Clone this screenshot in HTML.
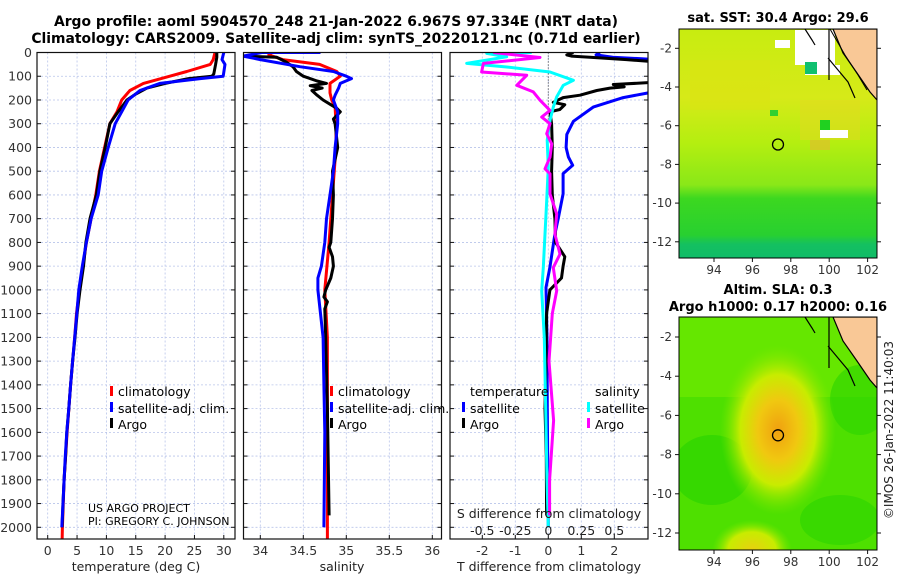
<!DOCTYPE html>
<html><head><meta charset="utf-8">
<style>
html,body{margin:0;padding:0;background:#fff;}
svg{display:block;font-family:"DejaVu Sans","Liberation Sans",sans-serif;}
</style></head>
<body>
<svg id="chart" width="900" height="580" viewBox="0 0 900 580">
<defs>
<linearGradient id="sstGrad" x1="0" y1="0" x2="0" y2="1">
<stop offset="0" stop-color="#c8ec10"/>
<stop offset="0.3" stop-color="#d6ea18"/>
<stop offset="0.5" stop-color="#b4ee10"/>
<stop offset="0.68" stop-color="#8ae818"/>
<stop offset="0.74" stop-color="#3cd820"/>
<stop offset="0.9" stop-color="#28d030"/>
<stop offset="0.94" stop-color="#14c060"/>
<stop offset="1" stop-color="#10bc68"/>
</linearGradient>
<radialGradient id="slaBlob" cx="0.5" cy="0.5" r="0.5">
<stop offset="0" stop-color="#f0a010"/>
<stop offset="0.35" stop-color="#f0c810"/>
<stop offset="0.65" stop-color="#c8ec00"/>
<stop offset="1" stop-color="#7ce800" stop-opacity="0"/>
</radialGradient>
<radialGradient id="slaBlob2" cx="0.5" cy="0.5" r="0.5">
<stop offset="0" stop-color="#e8d010"/>
<stop offset="0.6" stop-color="#c8ec00"/>
<stop offset="1" stop-color="#7ce800" stop-opacity="0"/>
</radialGradient>
<clipPath id="c1"><rect x="37" y="52.5" width="198" height="486.5"/></clipPath>
<clipPath id="c2"><rect x="243.5" y="52.5" width="198" height="486.5"/></clipPath>
<clipPath id="c3"><rect x="450" y="52.5" width="198" height="486.5"/></clipPath>
<clipPath id="cm1"><rect x="679" y="29" width="198" height="229"/></clipPath>
<clipPath id="cm2"><rect x="679" y="317" width="198" height="233"/></clipPath>
</defs>

<text x="336" y="26" text-anchor="middle" font-size="13.9" font-weight="bold">Argo profile: aoml 5904570_248 21-Jan-2022 6.967S 97.334E (NRT data)</text>
<text x="336" y="43" text-anchor="middle" font-size="13.9" font-weight="bold">Climatology: CARS2009. Satellite-adj clim: synTS_20220121.nc (0.71d earlier)</text>

<g id="grids"></g>
<g id="series"></g>
<g id="axes"></g>

<g font-size="12.5">
<rect x="110" y="386" width="3" height="10" fill="#f00"/><text x="118" y="396">climatology</text>
<rect x="110" y="402" width="3" height="10" fill="#00f"/><text x="118" y="413">satellite-adj. clim.</text>
<rect x="110" y="418" width="3" height="10" fill="#000"/><text x="118" y="429">Argo</text>
</g>
<g font-size="12.5">
<rect x="330" y="386" width="3" height="10" fill="#f00"/><text x="338" y="396">climatology</text>
<rect x="330" y="402" width="3" height="10" fill="#00f"/><text x="338" y="413">satellite-adj. clim.</text>
<rect x="330" y="418" width="3" height="10" fill="#000"/><text x="338" y="429">Argo</text>
</g>
<g font-size="12.5">
<text x="470" y="396">temperature</text>
<rect x="462" y="402" width="3" height="10" fill="#00f"/><text x="470" y="413">satellite</text>
<rect x="462" y="418" width="3" height="10" fill="#000"/><text x="470" y="429">Argo</text>
<text x="595" y="396">salinity</text>
<rect x="587" y="402" width="3" height="10" fill="#0ff"/><text x="595" y="413">satellite</text>
<rect x="587" y="418" width="3" height="10" fill="#f0f"/><text x="595" y="429">Argo</text>
</g>
<text x="88" y="512" font-size="11">US ARGO PROJECT</text>
<text x="88" y="525" font-size="11">PI: GREGORY C. JOHNSON</text>

<text x="136" y="571" text-anchor="middle" font-size="12.5" fill="#222">temperature (deg C)</text>
<text x="342" y="571" text-anchor="middle" font-size="12.5" fill="#222">salinity</text>
<text x="549" y="571" text-anchor="middle" font-size="12.5" fill="#222">T difference from climatology</text>
<text x="549" y="518" text-anchor="middle" font-size="12.5" fill="#222">S difference from climatology</text>

<g>
<text x="778" y="22" text-anchor="middle" font-size="13" font-weight="bold">sat. SST: 30.4 Argo: 29.6</text>
<g clip-path="url(#cm1)">
<rect x="679" y="29" width="198" height="229" fill="url(#sstGrad)"/>
<rect x="690" y="60" width="80" height="50" fill="#e0e010" opacity="0.45"/>
<rect x="800" y="100" width="60" height="40" fill="#e6d820" opacity="0.5"/>
<rect x="810" y="140" width="20" height="10" fill="#e8b830" opacity="0.6"/>
<rect x="795" y="30" width="40" height="35" fill="#fff"/>
<rect x="775" y="40" width="15" height="8" fill="#fff"/>
<rect x="805" y="65" width="35" height="10" fill="#fff"/>
<rect x="805" y="62" width="12" height="12" fill="#10c070"/>
<rect x="820" y="120" width="10" height="10" fill="#20d020"/>
<rect x="820" y="130" width="28" height="8" fill="#fff"/>
<rect x="770" y="110" width="8" height="6" fill="#30d030"/>
<polygon points="833,29 877,29 877,100 870,92 857,73 843,53" fill="#f9c896" stroke="#000" stroke-width="1.2"/>
<polyline points="830,29 845,55 858,75 867,90" fill="none" stroke="#000" stroke-width="1"/>
<polyline points="805,29 812,40 815,45" fill="none" stroke="#000" stroke-width="1.2"/>
<polyline points="828,58 838,70 848,82 855,98" fill="none" stroke="#000" stroke-width="1.2"/>
<line x1="829" y1="29" x2="829" y2="80" stroke="#000" stroke-width="1.2"/>
<circle cx="778" cy="144.5" r="5.5" fill="none" stroke="#000" stroke-width="1.3"/>
</g>
<rect x="679" y="29" width="198" height="229" fill="none" stroke="#000" stroke-width="1"/>
</g>

<g>
<text x="778" y="294" text-anchor="middle" font-size="13" font-weight="bold">Altim. SLA: 0.3</text>
<text x="778" y="311" text-anchor="middle" font-size="13" font-weight="bold">Argo h1000: 0.17 h2000: 0.16</text>
<g clip-path="url(#cm2)">
<rect x="679" y="317" width="198" height="233" fill="#4ee000"/>
<rect x="679" y="317" width="198" height="80" fill="#6ce800" opacity="0.8"/>
<ellipse cx="712" cy="470" rx="40" ry="35" fill="#2cd400" opacity="0.7"/>
<ellipse cx="860" cy="400" rx="30" ry="35" fill="#2cd400" opacity="0.6"/>
<ellipse cx="840" cy="520" rx="40" ry="25" fill="#2cd400" opacity="0.6"/>
<ellipse cx="778" cy="430" rx="58" ry="85" fill="url(#slaBlob)"/>
<ellipse cx="752" cy="550" rx="40" ry="30" fill="url(#slaBlob2)"/>
<polygon points="833,317 877,317 877,388 870,380 857,361 843,341" fill="#f9c896" stroke="#000" stroke-width="1.2"/>
<polyline points="805,317 812,328 815,333" fill="none" stroke="#000" stroke-width="1.2"/>
<polyline points="828,346 838,358 848,370 855,386" fill="none" stroke="#000" stroke-width="1.2"/>
<line x1="829" y1="317" x2="829" y2="368" stroke="#000" stroke-width="1.2"/>
<circle cx="778" cy="435.3" r="5.5" fill="none" stroke="#000" stroke-width="1.3"/>
</g>
<rect x="679" y="317" width="198" height="233" fill="none" stroke="#000" stroke-width="1"/>
</g>
<g id="mapaxes" font-size="12" fill="#333"></g>
<text transform="translate(893,430) rotate(-90)" text-anchor="middle" font-size="12" fill="#222">©IMOS 26-Jan-2022 11:40:03</text>
</svg>

<script>
const depthTicks = [0,100,200,300,400,500,600,700,800,900,1000,1100,1200,1300,1400,1500,1600,1700,1800,1900,2000];
const tempTicks = [0,5,10,15,20,25,30];
const salTicks = [34,34.5,35,35.5,36];
const tdiffTicks = [-2,-1,0,1,2];
const sdiffTicks = [-0.5,-0.25,0,0.25,0.5];
const sdiffTickLabels = ["-0.5","-0.25","0","0.25","0.5"];

const tempClimD = [0,30,50,80,100,130,160,200,250,300,400,500,600,700,800,900,1000,1100,1200,1400,1600,1800,2000,2060];
const tempClimV = [28.5,28.2,27.7,23.7,20.8,16.3,14,12.6,11.8,10.6,9.7,8.8,8.2,7.4,6.6,6.0,5.4,4.9,4.6,3.9,3.3,2.8,2.5,2.45];
const tempSatD = [0,30,50,100,110,130,160,200,250,300,400,500,600,700,800,900,1000,1100,1200,1300,1400,1500,1600,1700,1800,1900,2000];
const tempSatV = [30,29.7,30.2,29.9,26,19.1,15.7,13.7,12.6,11.5,10.3,9.2,8.6,7.4,6.6,5.9,5.3,4.95,4.6,4.25,3.9,3.6,3.25,3.0,2.8,2.6,2.4];
const tempArgoD = [0,20,50,90,100,110,130,150,175,200,230,250,300,400,500,600,700,800,900,1000,1100,1200,1300,1400,1500,1600,1700,1800,1900,2000];
const tempArgoV = [28.8,28.8,28.6,28.3,28.0,24,20,16.9,15,13.5,12.6,12,10.6,9.8,8.9,8.3,7.2,6.5,6.1,5.5,5.0,4.65,4.25,3.9,3.6,3.25,3.05,2.8,2.6,2.45];

const salClimD = [0,10,30,50,80,100,130,170,200,230,300,400,600,800,1000,1200,1600,2000,2060];
const salClimV = [34.13,34.1,34.26,34.69,34.89,34.93,34.81,34.81,34.83,34.87,34.88,34.88,34.84,34.8,34.75,34.78,34.78,34.78,34.78];
const salSatD = [0,0,15,30,60,80,100,110,130,150,180,200,250,300,400,500,600,700,800,900,950,1000,1100,1200,1400,1600,2000];
const salSatV = [34.7,34.02,33.8,34.0,34.46,34.85,35.0,35.06,34.93,34.91,34.87,34.85,34.9,34.9,34.87,34.85,34.81,34.77,34.75,34.71,34.67,34.67,34.70,34.73,34.74,34.75,34.74];
const salArgoD = [15,20,40,60,80,100,120,130,140,150,160,180,200,220,235,250,280,300,400,500,600,700,800,820,860,900,950,1000,1030,1050,1080,1200,1500,1950];
const salArgoV = [33.8,34.19,34.3,34.38,34.42,34.5,34.66,34.77,34.58,34.72,34.6,34.66,34.73,34.82,34.89,34.93,34.85,34.87,34.9,34.84,34.85,34.84,34.82,34.8,34.84,34.85,34.82,34.76,34.74,34.78,34.75,34.76,34.78,34.8];

const tdSatD = [0,10,20,30,40,160,170,190,230,290,345,400,440,475,510,595,700,765,905,990,1200,1500,2000];
const tdSatV = [1.56,1.45,1.95,3.3,3.6,3.6,3.03,2.27,1.36,0.76,0.56,0.54,0.61,0.74,0.45,0.45,0.30,0.2,0.05,-0.07,-0.04,-0.03,0];
const tdArgoD = [0,10,15,20,30,40,125,135,140,145,150,160,180,190,210,220,240,250,300,400,500,600,700,800,860,900,950,1000,1100,1300,1500,1700,1950];
const tdArgoV = [0.76,0.56,0.7,1.26,2.37,3.3,3.3,1.97,2.17,2.3,1.87,1.47,0.96,0.45,0.15,0.5,0.35,0.05,0.1,0.12,0.1,0.12,0.2,0.22,0.5,0.45,0.4,0.05,-0.05,-0.07,-0.1,-0.06,-0.05];
const sdSatD = [0,4,18,46,61,82,117,138,187,230,286,370,483,624,765,906,1004,1200,1500,1800,2000];
const sdSatV = [-0.126,-0.467,-0.315,-0.618,-0.315,0.013,0.19,0.114,0.064,0.038,0.013,-0.008,0,-0.012,-0.025,-0.038,-0.05,-0.03,-0.02,-0.01,0];
const sdArgoD = [0,21,46,82,96,138,166,201,244,272,300,342,385,441,490,511,596,680,765,849,906,1004,1100,1300,1550,1800,1950];
const sdArgoV = [-0.417,-0.063,-0.492,-0.505,-0.164,-0.239,-0.114,-0.063,0.013,-0.05,0.013,-0.012,0.026,0.013,-0.025,0.013,0.013,0.064,0.05,0.089,0.038,0.064,0.03,0.005,0.04,0.01,0.01];

const mapLonTicks = [94,96,98,100,102];
const mapLatTicks = [-2,-4,-6,-8,-10,-12];

const NS = "http://www.w3.org/2000/svg";
const yD = d => 52.5 + d * 0.2374;
const xT = t => 47.7 + t * 5.87;
const xS = s => 260.3 + (s - 34) * 86;
const xTD = v => 548.3 + v * 33;
const xSD = v => 548.3 + v * 132;
const P = [[37,235],[243.5,441.5],[450,648]];
const TOP = 52.5, BOT = 539;

function mk(tag, attrs, parent){
  const e = document.createElementNS(NS, tag);
  for (const k in attrs) e.setAttribute(k, attrs[k]);
  parent.appendChild(e);
  return e;
}
const grids = document.getElementById('grids');
const series = document.getElementById('series');
const axes = document.getElementById('axes');

P.forEach((p, i) => {
  depthTicks.forEach(d => {
    const l = mk('line', {x1:p[0], x2:p[1], y1:yD(d), y2:yD(d), stroke:'#b8c4ea', 'stroke-width':0.8, 'stroke-dasharray':'2,2'}, grids);
    
    
  });
});
function vgrid(ticks, fx){
  ticks.forEach(t => {
    const l = mk('line', {x1:fx(t), x2:fx(t), y1:TOP, y2:BOT, stroke:'#b8c4ea', 'stroke-width':0.8, 'stroke-dasharray':'2,2'}, grids);
    
    
  });
}
vgrid(tempTicks, xT); vgrid(salTicks, xS); vgrid(tdiffTicks, xTD);
const zl = mk('line', {x1:xTD(0), x2:xTD(0), y1:TOP, y2:yD(300), stroke:'#333', 'stroke-width':1, 'stroke-dasharray':'1,2'}, grids);



function line(D, V, fx, color, clip, name, w){
  const pts = D.map((d, i) => fx(V[i]).toFixed(1) + ',' + yD(d).toFixed(1)).join(' ');
  const pl = mk('polyline', {points:pts, fill:'none', stroke:color, 'stroke-width':w || 3, 'stroke-linejoin':'round', 'clip-path':'url(#' + clip + ')'}, series);
  
  
}
line(tempClimD, tempClimV, xT, '#f00', 'c1', 'temperature-climatology-line');
line(tempArgoD, tempArgoV, xT, '#000', 'c1', 'temperature-argo-line');
line(tempSatD, tempSatV, xT, '#00f', 'c1', 'temperature-satellite-line');
line(salClimD, salClimV, xS, '#f00', 'c2', 'salinity-climatology-line');
line(salArgoD, salArgoV, xS, '#000', 'c2', 'salinity-argo-line');
line(salSatD, salSatV, xS, '#00f', 'c2', 'salinity-satellite-line');
line(tdSatD, tdSatV, xTD, '#00f', 'c3', 'tdiff-satellite-line');
line(tdArgoD, tdArgoV, xTD, '#000', 'c3', 'tdiff-argo-line');
line(sdSatD, sdSatV, xSD, '#0ff', 'c3', 'sdiff-satellite-line');
line(sdArgoD, sdArgoV, xSD, '#f0f', 'c3', 'sdiff-argo-line');

P.forEach((p, i) => {
  const r = mk('rect', {x:p[0], y:TOP, width:p[1]-p[0], height:BOT-TOP, fill:'none', stroke:'#111', 'stroke-width':1.2}, axes);
  
  
  depthTicks.forEach(d => {
    mk('line', {x1:p[0], x2:p[0]+4, y1:yD(d), y2:yD(d), stroke:'#111'}, axes);
    mk('line', {x1:p[1]-4, x2:p[1], y1:yD(d), y2:yD(d), stroke:'#111'}, axes);
  });
});
depthTicks.forEach(d => {
  const t = mk('text', {x:32, y:yD(d)+4.5, 'text-anchor':'end', 'font-size':12.5, fill:'#333'}, axes);
  t.textContent = d;
  
  
});
function xlabels(ticks, fx, labels){
  ticks.forEach((v, i) => {
    mk('line', {x1:fx(v), x2:fx(v), y1:BOT, y2:BOT-4, stroke:'#111'}, axes);
    const t = mk('text', {x:fx(v), y:555, 'text-anchor':'middle', 'font-size':12.5, fill:'#333'}, axes);
    t.textContent = labels ? labels[i] : v;
    
    
  });
}
xlabels(tempTicks, xT); xlabels(salTicks, xS); xlabels(tdiffTicks, xTD);
sdiffTicks.forEach((v, i) => {
  const t = mk('text', {x:xSD(v), y:535, 'text-anchor':'middle', 'font-size':12.5, fill:'#222'}, axes);
  t.textContent = sdiffTickLabels[i];
  
  
});

const ma = document.getElementById('mapaxes');
const lonX = lon => 714 + (lon - 94) * 19.2;
const lat1 = lat => 48.3 + (-2 - lat) * 19.35;
const lat2 = lat => 337 + (-2 - lat) * 19.6;
[[lat1, 274, 258], [lat2, 566, 550]].forEach(([fy, ly, bot]) => {
  mapLonTicks.forEach(lon => {
    mk('line', {x1:lonX(lon), x2:lonX(lon), y1:bot, y2:bot+4, stroke:'#111'}, ma);
    const t = mk('text', {x:lonX(lon), y:ly, 'text-anchor':'middle'}, ma);
    t.textContent = lon;
    
    
  });
  mapLatTicks.forEach(lat => {
    mk('line', {x1:675, x2:679, y1:fy(lat), y2:fy(lat), stroke:'#111'}, ma);
    mk('line', {x1:877, x2:881, y1:fy(lat), y2:fy(lat), stroke:'#111'}, ma);
    const t = mk('text', {x:672, y:fy(lat)+4, 'text-anchor':'end'}, ma);
    t.textContent = lat;
    
    
  });
});
</script>
</body></html>
